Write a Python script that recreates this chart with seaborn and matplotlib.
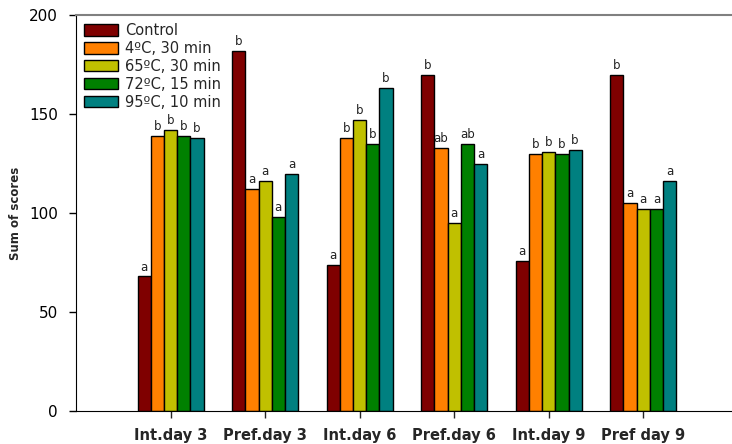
import matplotlib
matplotlib.use("Agg")
import matplotlib.pyplot as plt
import seaborn as sns
import pandas as pd

days = ["Int.day 3", "Pref.day 3", "Int.day 6", "Pref.day 6", "Int.day 9", "Pref day 9"]
treatments = ["Control", "4ºC, 30 min", "65ºC, 30 min", "72ºC, 15 min", "95ºC, 10 min"]
control = [68, 182, 74, 170, 76, 170]
t4_30 = [139, 112, 138, 133, 130, 105]
t65_30 = [142, 116, 147, 95, 131, 102]
t72_15 = [139, 98, 135, 135, 130, 102]
t95_10 = [138, 120, 163, 125, 132, 116]
letters_control = ["a", "b", "a", "b", "a", "b"]
letters_t4 = ["b", "a", "b", "ab", "b", "a"]
letters_t65 = ["b", "a", "b", "a", "b", "a"]
letters_t72 = ["b", "a", "b", "ab", "b", "a"]
letters_t95 = ["b", "a", "b", "a", "b", "a"]
colors = ["#7f0000", "#ff8000", "#c0c000", "#008000", "#008080"]

series = [control, t4_30, t65_30, t72_15, t95_10]
letters = [letters_control, letters_t4, letters_t65, letters_t72, letters_t95]

rows = []
for t, vals in zip(treatments, series):
    for d, v in zip(days, vals):
        rows.append({"day": d, "treatment": t, "score": v})
df = pd.DataFrame(rows)

sns.set_style("white")
plt.rcParams['font.family'] = ['DejaVu Sans']
fig = plt.figure(figsize=(7.32, 4.44), dpi=100)
ax = fig.add_axes([0.104, 0.074, 0.896, 0.892])

sns.barplot(data=df, x="day", y="score", hue="treatment", order=days,
            hue_order=treatments, palette=colors, width=0.7, gap=0,
            edgecolor="black", linewidth=1, saturation=1, ax=ax, errorbar=None)

for cont, labs in zip(ax.containers, letters):
    for bar, lab in zip(cont, labs):
        ax.text(bar.get_x() + bar.get_width() / 2, bar.get_height() + 1.5, lab,
                ha="center", va="bottom", fontsize=8.5, color="#222222")

ax.set_ylim(0, 200)
ax.set_xlim(-1, 5.94)
ax.set_yticks([0, 50, 100, 150, 200])
ax.tick_params(axis="y", labelsize=11, direction="out", length=5, width=1, left=True,
               colors="black", pad=8)
ax.tick_params(axis="x", labelsize=10.5, direction="out", length=5, width=1, bottom=True, pad=7)
for lab in ax.get_xticklabels():
    lab.set_fontweight("bold")
ax.set_xlabel("")
ax.set_ylabel("Sum of scores", fontsize=8.5, fontweight="bold", labelpad=5)

ax.spines["right"].set_visible(False)
ax.spines["top"].set_color("#808080")
ax.spines["top"].set_linewidth(1.5)
ax.spines["left"].set_color("black")
ax.spines["bottom"].set_color("black")

leg = ax.legend(loc="upper left", frameon=False, fontsize=10.5, handlelength=2.3,
                handleheight=0.8, labelspacing=0.2, borderaxespad=0.2, borderpad=0.35,
                handletextpad=0.5, bbox_to_anchor=(0.0, 1.0))

fig.savefig("out.png", dpi=100)
